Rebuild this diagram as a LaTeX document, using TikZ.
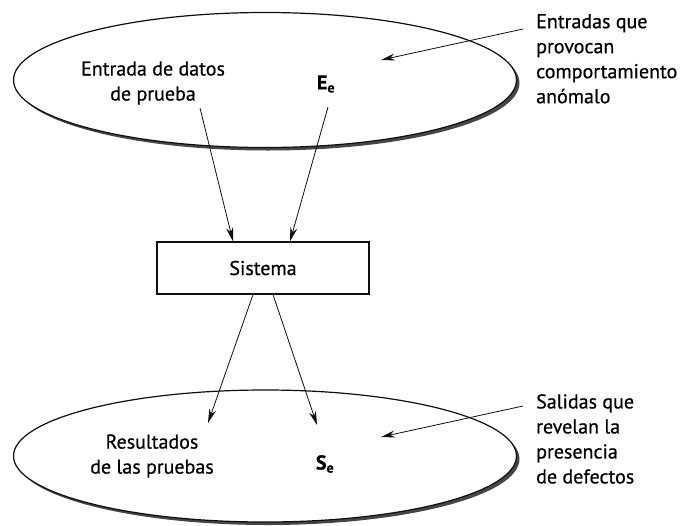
\documentclass[tikz,border=0pt]{standalone}
\usepackage{fontspec}
\setmainfont{PT Sans}[FakeBold=0.6]
\usetikzlibrary{shapes.geometric, arrows.meta, positioning, calc}
\definecolor{mydark}{RGB}{15,15,15}
\definecolor{myshade}{RGB}{70,70,70}
\tikzset{
  setshape/.style={ellipse, draw=mydark, fill=white, line width=1.2pt,
    minimum width=503pt, inner sep=0pt},
  setshade/.style={ellipse, fill=myshade, draw=none,
    minimum width=503pt, inner sep=0pt},
  sysbox/.style={rectangle, draw=mydark, fill=white, line width=1.2pt,
    minimum width=212pt, minimum height=52pt, font=\fontsize{20}{24}\selectfont},
  lbl/.style={align=center, font=\fontsize{20}{25}\selectfont, inner sep=0pt},
  note/.style={align=left, anchor=north west, font=\fontsize{20}{25}\selectfont, inner sep=0pt},
  arrow/.style={-{Stealth[length=14pt, width=7pt]}, line width=0.8pt, color=mydark},
  leader/.style={-{Stealth[length=14pt, width=7pt]}, line width=0.8pt, color=mydark}
}
\begin{document}
\begin{tikzpicture}[x=1pt, y=-1pt]
  \useasboundingbox (0,0) rectangle (696,525);

  % upper set of inputs
  \node[setshade, minimum height=135pt] at (268,83) {};
  \node[setshape, minimum height=135pt] (topset) at (265,80) {};
  \node[lbl] (datos) at (153,83) {Entrada de datos\\de prueba};
  \node[lbl] (ee) at (326,84) {\textbf{E\textsubscript{e}}};
  \node[note] (entnote) at (536,14) {Entradas que\\provocan\\comportamiento\\anómalo};

  % system
  \node[sysbox] (sistema) at (263,268) {Sistema};

  % lower set of outputs
  \node[setshade, minimum height=132pt] at (268,459) {};
  \node[setshape, minimum height=132pt] (botset) at (265,456) {};
  \node[lbl] (result) at (152,456) {Resultados\\de las pruebas};
  \node[lbl] (se) at (325,464) {\textbf{S\textsubscript{e}}};
  \node[note] (salnote) at (536,394) {Salidas que\\revelan la\\presencia\\de defectos};

  % end points
  \coordinate (in1) at (200,108);
  \coordinate (in2) at (328,107);
  \coordinate (out1) at (208,423);
  \coordinate (out2) at (317,425);
  \coordinate (ent) at (381,60);
  \coordinate (sal) at (381,437);

  % connectors
  \draw[arrow] (in1) -- (sistema.north -| 233,0);
  \draw[arrow] (in2) -- (sistema.north -| 290,0);
  \draw[arrow] (sistema.south -| 253,0) -- (out1);
  \draw[arrow] (sistema.south -| 273,0) -- (out2);
  \draw[leader] (entnote.north west) ++(-13,15) -- (ent);
  \draw[leader] (salnote.north west) ++(-13,12) -- (sal);
\end{tikzpicture}
\end{document}
